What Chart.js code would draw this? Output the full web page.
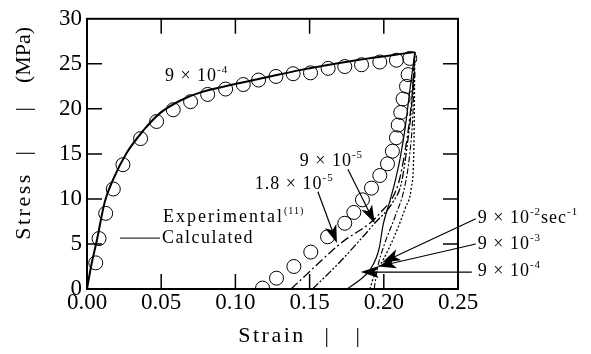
<!DOCTYPE html>
<html>
<head>
<meta charset="utf-8">
<script src="https://cdn.jsdelivr.net/npm/chart.js@4.4.0/dist/chart.umd.min.js"></script>
<style>
  html, body { margin: 0; padding: 0; background: #fff; }
  #c { display: block; }
</style>
</head>
<body>
<canvas id="c" width="591" height="354"></canvas>
<script>
// axis ticks
const xTickLabels = ['0.00', '0.05', '0.10', '0.15', '0.20', '0.25'];
const yTickLabels = ['0', '5', '10', '15', '20', '25', '30'];

// experimental (circles), strain / stress MPa
const expLoading = [
  [0.0059, 2.9], [0.0081, 5.6], [0.0126, 8.4], [0.0177, 11.1], [0.0242, 13.8],
  [0.0361, 16.7], [0.0469, 18.6], [0.0581, 19.9], [0.0698, 20.8], [0.0813, 21.6],
  [0.0934, 22.2], [0.1053, 22.7], [0.1156, 23.2], [0.1273, 23.6], [0.1389, 23.9],
  [0.1506, 24.0], [0.1625, 24.5], [0.1737, 24.7], [0.1850, 24.9], [0.1973, 25.2],
  [0.2085, 25.4], [0.2175, 25.6]
];
const expUnloading = [
  [0.2164, 23.8], [0.2153, 22.5], [0.2130, 21.1], [0.2114, 19.6], [0.2097, 18.2],
  [0.2085, 16.8], [0.2058, 15.3], [0.2025, 13.9], [0.1973, 12.6], [0.1917, 11.2],
  [0.1856, 9.9], [0.1798, 8.5], [0.1737, 7.3], [0.1621, 5.8], [0.1508, 4.1],
  [0.1394, 2.5], [0.1277, 1.2], [0.1183, 0.1]
];

// calculated loading, 9x10^-4
const calcLoading = [
  [0, 0], [0.0031, 2.8], [0.0065, 5.3], [0.012, 9.7], [0.0177, 12.2], [0.0267, 15.1],
  [0.038, 17.6], [0.049, 19.5], [0.0626, 20.9], [0.076, 21.8], [0.0985, 22.7],
  [0.121, 23.5], [0.1434, 24.3], [0.1816, 25.4], [0.2209, 26.3]
];

// calculated unloading at different rates (from zero stress up to the peak)
const unload9e4 = [
  [0.175, 0], [0.1838, 1.0], [0.1906, 2.1], [0.195, 3.5], [0.197, 4.6], [0.1995, 7.1],
  [0.204, 9.7], [0.2074, 11.8], [0.211, 14.5], [0.2145, 18], [0.2175, 22], [0.2209, 26.3]
];
const unload18e5 = [
  [0.1375, 0], [0.1704, 5.0], [0.1973, 8.4], [0.2100, 11.8], [0.2140, 15],
  [0.2175, 19], [0.2198, 23], [0.2209, 26.3]
];
const unload9e5 = [
  [0.152, 0], [0.1704, 3.0], [0.1939, 7.3], [0.2063, 9.7], [0.2119, 11.8],
  [0.2158, 16], [0.2188, 20.5], [0.2209, 26.3]
];
const unload9e3 = [
  [0.1935, 0], [0.196, 2.5], [0.2005, 5], [0.2075, 8], [0.214, 11.3],
  [0.2175, 15], [0.2196, 19.5], [0.2209, 26.3]
];
const unload9e2 = [
  [0.1906, 0], [0.194, 1.7], [0.1995, 3.2], [0.2075, 6], [0.2145, 9],
  [0.2186, 11.3], [0.2203, 16], [0.2209, 26.3]
];

const pts = arr => arr.map(p => ({ x: p[0], y: p[1] }));
const SERIF = '"Liberation Serif", "Times New Roman", serif';

function lineSet(label, arr, dash, width) {
  return {
    label, data: pts(arr), showLine: true, pointRadius: 0,
    borderColor: '#000', borderWidth: width, borderDash: dash,
    cubicInterpolationMode: 'monotone', fill: false
  };
}

// rich text: parts are [text, size, sup]
function drawRich(ctx, x, y, parts, spacing) {
  let cx = x;
  parts.forEach(([t, size, sup]) => {
    ctx.font = size + 'px ' + SERIF;
    ctx.letterSpacing = (sup ? 1 : spacing) + 'px';
    ctx.fillText(t, cx, sup ? y - 6 : y);
    cx += ctx.measureText(t).width;
  });
}

function arrow(ctx, x1, y1, x2, y2) {
  const ang = Math.atan2(y2 - y1, x2 - x1), L = 18, W = 6;
  ctx.beginPath(); ctx.moveTo(x1, y1); ctx.lineTo(x2 - Math.cos(ang) * 10, y2 - Math.sin(ang) * 10); ctx.stroke();
  ctx.beginPath();
  ctx.moveTo(x2, y2);
  ctx.lineTo(x2 - L * Math.cos(ang) + W * Math.sin(ang), y2 - L * Math.sin(ang) - W * Math.cos(ang));
  ctx.lineTo(x2 - L * 0.75 * Math.cos(ang), y2 - L * 0.75 * Math.sin(ang));
  ctx.lineTo(x2 - L * Math.cos(ang) - W * Math.sin(ang), y2 - L * Math.sin(ang) + W * Math.cos(ang));
  ctx.closePath(); ctx.fill();
}

const frame = {
  id: 'frame',
  afterDraw(chart) {
    const { ctx, chartArea: a, scales: { x, y } } = chart;
    ctx.save();
    ctx.strokeStyle = '#000'; ctx.fillStyle = '#000';
    // inward ticks on all four sides
    ctx.lineWidth = 1.5;
    x.ticks.forEach(t => {
      if (t.value <= 0 || t.value >= 0.25) return;
      const px = x.getPixelForValue(t.value);
      ctx.beginPath(); ctx.moveTo(px, a.bottom); ctx.lineTo(px, a.bottom - 15);
      ctx.moveTo(px, a.top); ctx.lineTo(px, a.top + 15); ctx.stroke();
    });
    y.ticks.forEach(t => {
      if (t.value <= 0 || t.value >= 30) return;
      const py = y.getPixelForValue(t.value);
      ctx.beginPath(); ctx.moveTo(a.left, py); ctx.lineTo(a.left + 15, py);
      ctx.moveTo(a.right, py); ctx.lineTo(a.right - 15, py); ctx.stroke();
    });
    ctx.lineWidth = 2;
    ctx.strokeRect(a.left, a.top, a.right - a.left, a.bottom - a.top);

    const P = (sx, sy) => [x.getPixelForValue(sx), y.getPixelForValue(sy)];
    ctx.textBaseline = 'middle'; ctx.textAlign = 'left';

    // labels inside the plot
    let p = P(0.0525, 23.6); drawRich(ctx, p[0], p[1], [['9 × 10', 18], ['-4', 11, true]], 1);
    p = P(0.1434, 14.2); drawRich(ctx, p[0], p[1], [['9 × 10', 18], ['-5', 11, true]], 1);
    p = P(0.1131, 11.6); drawRich(ctx, p[0], p[1], [['1.8 × 10', 18], ['-5', 11, true]], 1);
    p = P(0.0512, 8.0); drawRich(ctx, p[0], p[1], [['Experimental', 18], ['(11)', 10, true]], 2);
    p = P(0.0505, 5.65); drawRich(ctx, p[0], p[1], [['Calculated', 18]], 1.5);
    ctx.lineWidth = 1;
    let q = P(0.0222, 5.65), r = P(0.0492, 5.65);
    ctx.beginPath(); ctx.moveTo(q[0], q[1]); ctx.lineTo(r[0], r[1]); ctx.stroke();

    // labels on the right
    p = P(0.2633, 7.83); drawRich(ctx, p[0], p[1], [['9 × 10', 18], ['-2', 11, true], ['sec', 18], ['-1', 11, true]], 1);
    p = P(0.2633, 5.0); drawRich(ctx, p[0], p[1], [['9 × 10', 18], ['-3', 11, true]], 1);
    p = P(0.2633, 2.0); drawRich(ctx, p[0], p[1], [['9 × 10', 18], ['-4', 11, true]], 1);

    // arrows
    ctx.lineWidth = 1.2;
    [
      [0.1758, 13.3, 0.1939, 7.3],
      [0.1556, 10.8, 0.1684, 5.1],
      [0.2620, 7.8, 0.1990, 2.95],
      [0.2620, 5.0, 0.1962, 2.5],
      [0.2593, 1.88, 0.1845, 1.88]
    ].forEach(([a1, b1, a2, b2]) => {
      const s = P(a1, b1), e = P(a2, b2);
      arrow(ctx, s[0], s[1], e[0], e[1]);
    });

    // axis titles
    ctx.font = '22px ' + SERIF; ctx.letterSpacing = '2.5px';
    ctx.textAlign = 'center';
    ctx.fillText('Strain', 272, 336);
    ctx.fillText('|', 328, 336);
    ctx.fillText('|', 359, 336);
    ctx.translate(24, 0); ctx.rotate(-Math.PI / 2);
    ctx.fillText('Stress', -206, 0);
    ctx.fillText('|', -152, 0);
    ctx.fillText('|', -108, 0);
    ctx.letterSpacing = '0px';
    ctx.fillText('(MPa)', -55, 0);
    ctx.restore();
  }
};

new Chart(document.getElementById('c'), {
  type: 'scatter',
  data: {
    datasets: [
      lineSet('Calculated 9e-4', calcLoading, [], 2),
      lineSet('9e-4', unload9e4, [], 1.2),
      lineSet('1.8e-5', unload18e5, [9, 3, 2, 3], 1.3),
      lineSet('9e-5', unload9e5, [8, 2, 2, 2, 2, 2], 1.3),
      lineSet('9e-3', unload9e3, [6, 2, 2, 2], 1.1),
      lineSet('9e-2', unload9e2, [2, 2], 1.3),
      {
        label: 'Experimental', data: pts(expLoading.concat(expUnloading)), showLine: false,
        pointRadius: 7, pointStyle: 'circle', pointBorderColor: '#000',
        pointBackgroundColor: 'rgba(0,0,0,0)', pointBorderWidth: 1
      }
    ]
  },
  options: {
    responsive: false,
    animation: false,
    devicePixelRatio: 1,
    layout: { padding: { top: 13, right: 133, left: 0, bottom: 0 } },
    plugins: { legend: { display: false }, tooltip: { enabled: false } },
    scales: {
      x: {
        type: 'linear', min: 0, max: 0.25,
        grid: { display: false, drawTicks: false }, border: { display: false },
        ticks: {
          stepSize: 0.05, padding: 0, color: '#000', maxRotation: 0,
          font: { family: SERIF, size: 23 },
          callback: (v, i) => xTickLabels[i]
        },
        afterFit: s => { s.height = 65; }
      },
      y: {
        type: 'linear', min: 0, max: 30,
        grid: { display: false, drawTicks: false }, border: { display: false },
        ticks: {
          stepSize: 5, padding: 5, color: '#000',
          font: { family: SERIF, size: 23 },
          callback: (v, i) => yTickLabels[i]
        },
        afterFit: s => { s.width = 87; }
      }
    }
  },
  plugins: [frame]
});
</script>
</body>
</html>
